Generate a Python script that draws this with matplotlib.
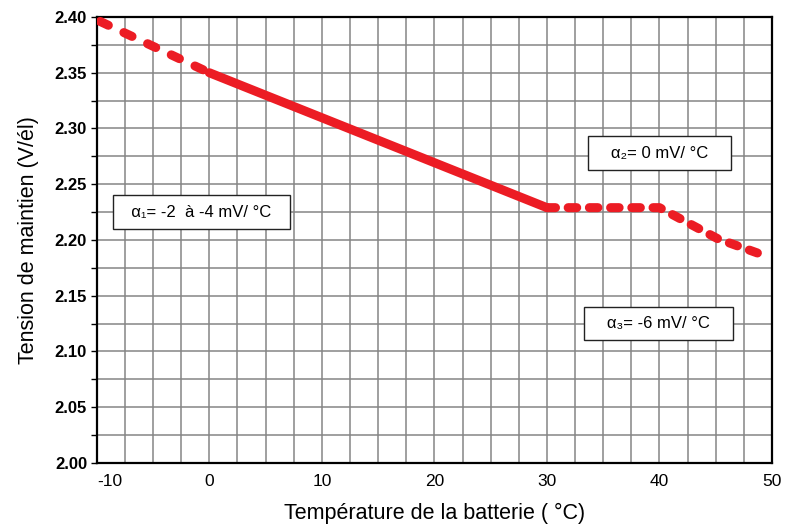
import matplotlib
matplotlib.use('Agg')
import matplotlib.pyplot as plt
from matplotlib.ticker import MultipleLocator

# float voltage vs battery temperature
t_cold = [-9.7, 0]
v_cold = [2.396, 2.350]
t_mid = [0, 30]
v_mid = [2.350, 2.229]
t_warm = [30, 40, 45.2, 48.8]
v_warm = [2.229, 2.229, 2.201, 2.188]

x_ticks = [-10, 0, 10, 20, 30, 40, 50]
y_ticks = [2.00, 2.05, 2.10, 2.15, 2.20, 2.25, 2.30, 2.35, 2.40]

notes = [
    ("  α₁= -2  à -4 mV/ °C  ", -0.7, 2.225),
    ("   α₂= 0 mV/ °C   ", 40.0, 2.278),
    ("   α₃= -6 mV/ °C   ", 39.9, 2.125),
]

plt.rcParams['font.family'] = ['Liberation Sans', 'DejaVu Sans']

fig = plt.figure(figsize=(8, 5.24), dpi=100)
ax = fig.add_axes([0.121, 0.1164, 0.844, 0.8512])

red = '#ec1c24'
ax.plot(t_cold, v_cold, color=red, lw=6.5, dashes=(1.0, 1.9),
        dash_capstyle='round', zorder=3)
ax.plot(t_mid, v_mid, color=red, lw=6.5, solid_capstyle='round', zorder=3)
ax.plot(t_warm, v_warm, color=red, lw=6.5, dashes=(0.95, 1.4),
        dash_capstyle='round', zorder=3)

ax.set_xlim(-10, 50)
ax.set_ylim(2.00, 2.40)
ax.set_xticks(x_ticks)
ax.set_yticks(y_ticks)
ax.set_yticklabels([f"{v:.2f}" for v in y_ticks], fontweight='bold', fontsize=12)
ax.set_xticklabels([str(v) for v in x_ticks], fontsize=12.5)
ax.get_xticklabels()[0].set_horizontalalignment('left')
ax.xaxis.set_minor_locator(MultipleLocator(2.5))
ax.yaxis.set_minor_locator(MultipleLocator(0.025))
ax.grid(which='both', color='#858585', lw=1.1)
ax.set_axisbelow(True)
ax.tick_params(axis='x', which='both', length=0, pad=8)
ax.tick_params(axis='y', which='both', direction='out', length=4, width=1, pad=3)

for s in ax.spines.values():
    s.set_linewidth(1.6)

ax.set_xlabel("Température de la batterie ( °C)", fontsize=15.5, labelpad=10)
ax.set_ylabel("Tension de maintien (V/él)", fontsize=15.5, labelpad=11)

for txt, x, y in notes:
    ax.text(x, y, txt, ha='center', va='center', fontsize=12, zorder=4,
            bbox=dict(boxstyle='square,pad=0.55', fc='white', ec='#222222', lw=1))

fig.savefig('out.png', dpi=100)
